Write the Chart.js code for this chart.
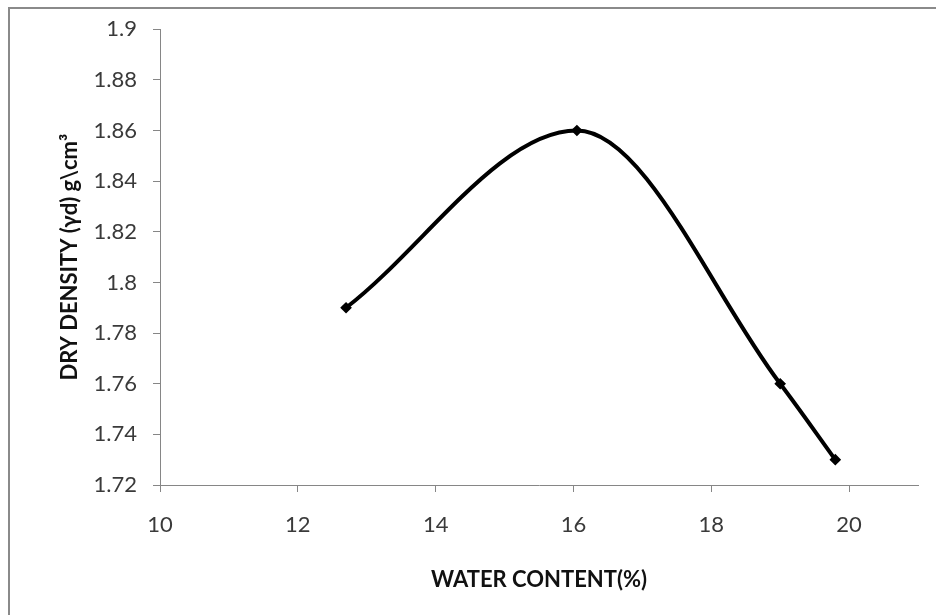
<!DOCTYPE html>
<html>
<head>
<meta charset="utf-8">
<script src="https://cdn.jsdelivr.net/npm/chart.js@4/dist/chart.umd.min.js"></script>
<style>
  body { margin: 0; background: #fff; }
  #wrap { position: relative; width: 936px; height: 615px; overflow: hidden; }
  #frame { position: absolute; left: 8px; top: 7px; width: 940px; height: 620px;
           border-left: 2px solid #8a8a8a; border-top: 2px solid #8a8a8a; }
  canvas { position: absolute; left: 0; top: 0; }
</style>
</head>
<body>
<div id="wrap">
  <div id="frame"></div>
  <canvas id="proctorChart" width="936" height="615"></canvas>
</div>
<script>
// water content (%) vs dry density (g/cm3)
const waterContent = [12.7, 16.05, 19.0, 19.8];
const dryDensity = [1.79, 1.86, 1.76, 1.73];

const xTitle = 'WATER CONTENT(%)';
const yTitle = 'DRY DENSITY (γd) g\\cm³';

const axisGrey = '#868686';
const tickFont = { family: 'Lato, "Open Sans", sans-serif', size: 22 };
const titleFont = { family: 'Lato, "Open Sans", sans-serif', size: 22, weight: 'bold' };

const points = waterContent.map((x, i) => ({ x: x, y: dryDensity[i] }));

new Chart(document.getElementById('proctorChart'), {
  type: 'line',
  data: {
    datasets: [{
      data: points,
      borderColor: '#000',
      backgroundColor: '#000',
      borderWidth: 4,
      cubicInterpolationMode: 'monotone',
      pointStyle: 'rectRot',
      pointRadius: 3,
      pointHoverRadius: 3
    }]
  },
  options: {
    responsive: false,
    animation: false,
    layout: { padding: { left: 10, top: 27, right: 18, bottom: 0 } },
    plugins: { legend: { display: false }, tooltip: { enabled: false } },
    scales: {
      x: {
        type: 'linear',
        min: 10,
        max: 21,
        afterFit: function (scale) { scale.height = 130; },
        border: { display: true, color: axisGrey, width: 1 },
        grid: { drawOnChartArea: false, drawTicks: true, tickLength: 7, color: axisGrey },
        ticks: { stepSize: 2, includeBounds: false, padding: 20, color: '#3a3a3a', font: tickFont, maxRotation: 0 },
        title: { display: true, text: xTitle, color: '#111', font: titleFont, padding: { top: 0, bottom: 22 } }
      },
      y: {
        min: 1.72,
        max: 1.9,
        afterFit: function (scale) { scale.width = 150; },
        border: { display: true, color: axisGrey, width: 1 },
        grid: { drawOnChartArea: false, drawTicks: true, tickLength: 7, color: axisGrey },
        ticks: {
          stepSize: 0.02,
          padding: 16,
          color: '#3a3a3a',
          font: tickFont,
          callback: function (v) { return String(+v.toFixed(2)); }
        },
        title: { display: true, text: yTitle, color: '#111', font: titleFont, padding: { top: 47, bottom: 0 } }
      }
    }
  }
});
</script>
</body>
</html>
